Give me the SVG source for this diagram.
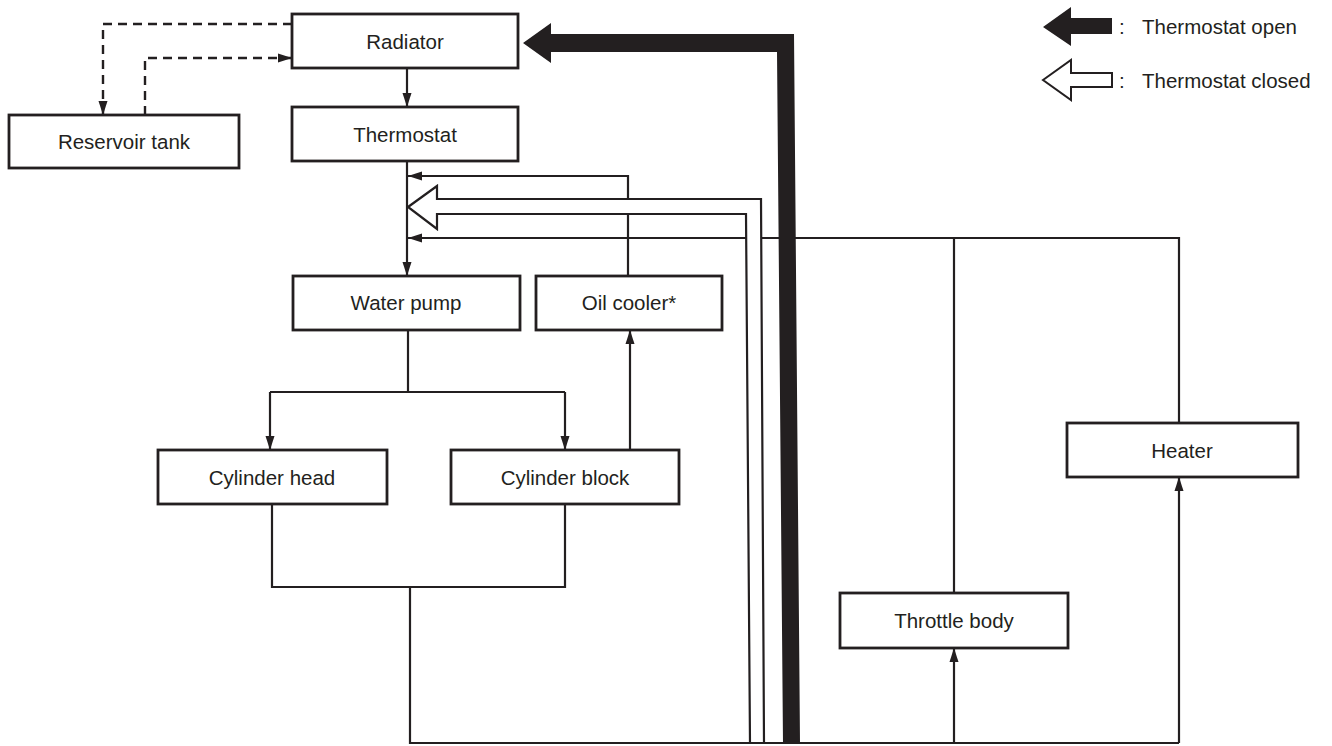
<svg xmlns="http://www.w3.org/2000/svg" width="1332" height="746" viewBox="0 0 1332 746">
<style>
.box{fill:#fff;stroke:#231f20;stroke-width:2.8}
.lbl{font-family:"Liberation Sans",Arial,sans-serif;font-size:20.5px;fill:#231f20;text-anchor:middle}
.leg{font-family:"Liberation Sans",Arial,sans-serif;font-size:20.5px;fill:#231f20}
.ln{fill:none;stroke:#231f20;stroke-width:2.2}
.dash{fill:none;stroke:#231f20;stroke-width:2.4;stroke-dasharray:9,6}
.arr{marker-end:url(#ah)}
</style>
<defs>
<marker id="ah" viewBox="0 0 14 10" refX="14" refY="5" markerWidth="14" markerHeight="10" markerUnits="userSpaceOnUse" orient="auto">
<path d="M0,0.5 L14,5 L0,9.5 Z" fill="#231f20"/>
</marker>
</defs>
<rect width="1332" height="746" fill="#fff"/>
<g id="connectors">
<path class="ln arr" d="M407,68 V107"/>
<path class="dash arr" d="M292,24 H103 V115"/>
<path class="dash arr" d="M145,115 V58 H292"/>
<path class="ln arr" d="M407,161 V276"/>
<path class="ln arr" d="M628,276 V176 H408"/>
<path class="ln arr" d="M630,450 V330"/>
<path class="ln" d="M408,330 V392"/>
<path class="ln" d="M270,392 H565"/>
<path class="ln arr" d="M270,392 V450"/>
<path class="ln arr" d="M565,392 V450"/>
<path class="ln" d="M272,504 V587 H565 V504"/>
<path class="ln" d="M410,587 V743 H1179"/>
<path class="ln arr" d="M1179,743 V477"/>
<path class="ln arr" d="M1179,423 V238 H408"/>
<path class="ln arr" d="M954,743 V648"/>
<path class="ln" d="M954,593 V238"/>
<polygon points="408,207 437,186 437,199 761,199 764,743 750,743 746,214 437,214 437,229" fill="#fff" stroke="#231f20" stroke-width="2.2" stroke-linejoin="miter"/>
<polygon points="523,43 551,23 551,34 794,34 800,743 783,743 777,52 551,52 551,63" fill="#231f20"/>
</g>
<g id="radiator"><rect class="box" x="292" y="14" width="226" height="54"/><text class="lbl" x="405" y="48.5">Radiator</text></g>
<g id="reservoir"><rect class="box" x="9" y="115" width="230" height="53"/><text class="lbl" x="124" y="149">Reservoir tank</text></g>
<g id="thermostat"><rect class="box" x="292" y="107" width="226" height="54"/><text class="lbl" x="405" y="141.5">Thermostat</text></g>
<g id="waterpump"><rect class="box" x="293" y="276" width="227" height="54"/><text class="lbl" x="406" y="310">Water pump</text></g>
<g id="oilcooler"><rect class="box" x="536" y="276" width="186" height="54"/><text class="lbl" x="629" y="310">Oil cooler*</text></g>
<g id="cylhead"><rect class="box" x="158" y="450" width="229" height="54"/><text class="lbl" x="272" y="484.5">Cylinder head</text></g>
<g id="cylblock"><rect class="box" x="451" y="450" width="228" height="54"/><text class="lbl" x="565" y="484.5">Cylinder block</text></g>
<g id="throttle"><rect class="box" x="840" y="593" width="228" height="55"/><text class="lbl" x="954" y="628">Throttle body</text></g>
<g id="heater"><rect class="box" x="1067" y="423" width="231" height="54"/><text class="lbl" x="1182" y="457.5">Heater</text></g>
<g id="legend">
<polygon points="1043,27 1071,7 1071,18 1112,18 1112,34 1071,34 1071,46" fill="#231f20"/>
<text class="leg" y="34"><tspan x="1119">:</tspan><tspan x="1142">Thermostat open</tspan></text>
<polygon points="1043,80 1071,60 1071,73 1112,73 1112,87 1071,87 1071,100" fill="#fff" stroke="#231f20" stroke-width="2"/>
<text class="leg" y="88"><tspan x="1119">:</tspan><tspan x="1142">Thermostat closed</tspan></text>
</g>
</svg>
